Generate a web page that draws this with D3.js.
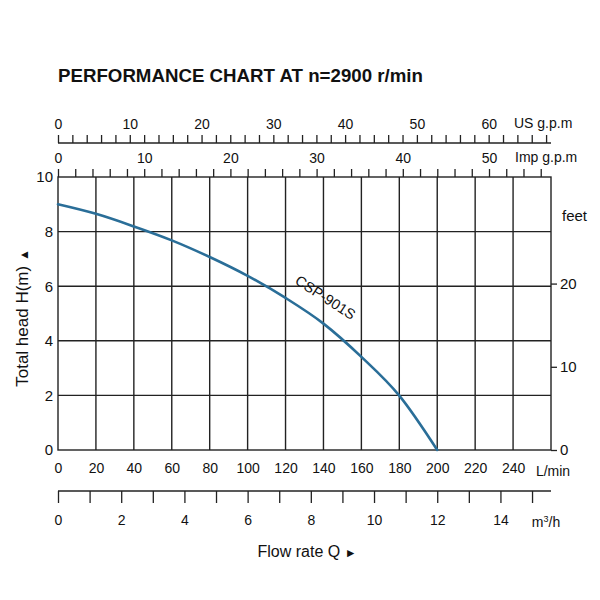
<!DOCTYPE html>
<html>
<head>
<meta charset="utf-8">
<script src="https://cdn.jsdelivr.net/npm/d3@7"></script>
<style>
  body { margin: 0; background: #fff; }
  svg text { font-family: "Liberation Sans", Arial, sans-serif; fill: #111; }
  .axis path, .axis line { stroke: #222; stroke-width: 1.3; }
</style>
</head>
<body>
<svg id="chart" width="600" height="600"></svg>
<script>
// curve CSP-901S
const flowLpm = [0, 20, 40, 60, 80, 100, 120, 140, 160, 180, 200]
const headM = [9.0, 8.65, 8.19, 7.68, 7.07, 6.38, 5.57, 4.63, 3.41, 1.99, 0]

// tick values of every scale
const lpmTicks = [0, 20, 40, 60, 80, 100, 120, 140, 160, 180, 200, 220, 240]
const lpmGrid = [20, 40, 60, 80, 100, 120, 140, 160, 180, 200, 220, 240]
const headTicks = [0, 2, 4, 6, 8, 10]
const headGrid = [2, 4, 6, 8]
const feetTicks = [0, 10, 20]
const usTicks = d3.range(0, 69, 2)
const impTicks = d3.range(0, 57, 2)
const m3hTicks = d3.range(0, 16, 1)

const title = 'PERFORMANCE CHART AT n=2900 r/min'
const curveName = 'CSP-901S'

const svg = d3.select('#chart')

// plot box
const pLeft = 58, pRight = 551, pTop = 177, pBottom = 450
const maxLpm = 260

const x = d3.scaleLinear().domain([0, maxLpm]).range([pLeft, pRight])
const y = d3.scaleLinear().domain([0, 10]).range([pBottom, pTop])
const xUS = d3.scaleLinear().domain([0, maxLpm / 3.78541]).range([pLeft, pRight])
const xImp = d3.scaleLinear().domain([0, maxLpm / 4.54609]).range([pLeft, pRight])
const xM3h = d3.scaleLinear().domain([0, maxLpm * 60 / 1000]).range([pLeft, pRight])
const yFeet = d3.scaleLinear().domain([0, 10 / 0.3048]).range([pBottom, pTop])

// title
svg.append('text')
  .attr('x', pLeft)
  .attr('y', 82)
  .style('font-size', '18.7px')
  .style('font-weight', 'bold')
  .text(title)

// grid
const grid = svg.append('g')
grid.selectAll('.vgrid')
  .data(lpmGrid)
  .join('line')
  .attr('x1', (d) => x(d)).attr('x2', (d) => x(d))
  .attr('y1', pTop).attr('y2', pBottom)
  .attr('stroke', '#222').attr('stroke-width', 1.4)
grid.selectAll('.hgrid')
  .data(headGrid)
  .join('line')
  .attr('x1', pLeft).attr('x2', pRight)
  .attr('y1', (d) => y(d)).attr('y2', (d) => y(d))
  .attr('stroke', '#222').attr('stroke-width', 1.4)

grid.append('rect')
  .attr('x', pLeft).attr('y', pTop)
  .attr('width', pRight - pLeft).attr('height', pBottom - pTop)
  .attr('fill', 'none')
  .attr('stroke', '#222').attr('stroke-width', 1.4)

const labelEvery = (step) => (d) => (Math.abs(d % step) < 1e-9 ? d : '')

function styleAxis (g, size) {
  g.classed('axis', true)
  g.selectAll('text').style('font-size', size).attr('fill', '#111')
}

// US g.p.m axis (top)
svg.append('g')
  .attr('transform', 'translate(0,143)')
  .call(d3.axisTop(xUS).tickValues(usTicks).tickFormat(labelEvery(10))
    .tickSize(8).tickSizeOuter(0).tickPadding(6))
  .call((g) => styleAxis(g, '14px'))
  .call((g) => g.select('.domain').attr('d', `M${pLeft},0H${pRight}`))
svg.append('text')
  .attr('x', 514).attr('y', 128)
  .style('font-size', '14px')
  .text('US g.p.m')

// Imp g.p.m axis, sits on the plot's top edge
svg.append('g')
  .attr('transform', `translate(0,${pTop})`)
  .call(d3.axisTop(xImp).tickValues(impTicks).tickFormat(labelEvery(10))
    .tickSize(8).tickSizeOuter(0).tickPadding(6))
  .call((g) => styleAxis(g, '14px'))
  .call((g) => g.select('.domain').remove())
svg.append('text')
  .attr('x', 515).attr('y', 162)
  .style('font-size', '14px')
  .text('Imp g.p.m')

// L/min axis (bottom of plot)
svg.append('g')
  .attr('transform', `translate(0,${pBottom})`)
  .call(d3.axisBottom(x).tickValues(lpmTicks).tickSize(0).tickPadding(13))
  .call((g) => styleAxis(g, '14px'))
  .call((g) => g.select('.domain').remove())
svg.append('text')
  .attr('x', 553).attr('y', 476)
  .attr('text-anchor', 'middle')
  .style('font-size', '14px')
  .text('L/min')

// m3/h axis
svg.append('g')
  .attr('transform', 'translate(0,491)')
  .call(d3.axisBottom(xM3h).tickValues(m3hTicks).tickFormat(labelEvery(2))
    .tickSize(12).tickSizeOuter(0).tickPadding(12))
  .call((g) => styleAxis(g, '14px'))
  .call((g) => g.select('.domain').attr('d', `M${pLeft},0H${pRight}`))
const m3 = svg.append('text')
  .attr('x', 546).attr('y', 527)
  .attr('text-anchor', 'middle')
  .style('font-size', '14px')
m3.append('tspan').text('m')
m3.append('tspan').text('3').style('font-size', '9px').attr('dy', -5)
m3.append('tspan').text('/h').attr('dy', 5)

// head axis (left)
svg.append('g')
  .attr('transform', `translate(${pLeft},0)`)
  .call(d3.axisLeft(y).tickValues(headTicks).tickSize(0).tickPadding(5))
  .call((g) => styleAxis(g, '15px'))
  .call((g) => g.select('.domain').remove())

// feet axis (right)
svg.append('g')
  .attr('transform', `translate(${pRight},0)`)
  .call(d3.axisRight(yFeet).tickValues(feetTicks).tickSize(6).tickSizeOuter(0).tickPadding(3))
  .call((g) => styleAxis(g, '15px'))
  .call((g) => g.select('.domain').remove())
svg.append('text')
  .attr('x', 562).attr('y', 221)
  .style('font-size', '15px')
  .text('feet')

// axis titles
const yt = svg.append('text')
  .attr('transform', `translate(28,318) rotate(-90)`)
  .attr('text-anchor', 'middle')
  .style('font-size', '17px')
yt.append('tspan').text('Total head H(m)  ')
yt.append('tspan').text('▲').style('font-size', '12px')

const xt = svg.append('text')
  .attr('x', 307).attr('y', 557)
  .attr('text-anchor', 'middle')
  .style('font-size', '16px')
xt.append('tspan').text('Flow rate  Q  ')
xt.append('tspan').text('►').style('font-size', '12px')

// performance curve
const pts = flowLpm.map((q, i) => [q, headM[i]])
const line = d3.line()
  .x((d) => x(d[0]))
  .y((d) => y(d[1]))
  .curve(d3.curveMonotoneX)

svg.append('path')
  .datum(pts)
  .attr('d', line)
  .attr('fill', 'none')
  .attr('stroke', '#2a6e98')
  .attr('stroke-width', 2.6)
  .attr('stroke-linecap', 'round')

// curve name along the line
svg.append('text')
  .attr('transform', 'translate(294,283) rotate(33)')
  .style('font-size', '14.5px')
  .text(curveName)
</script>
</body>
</html>
